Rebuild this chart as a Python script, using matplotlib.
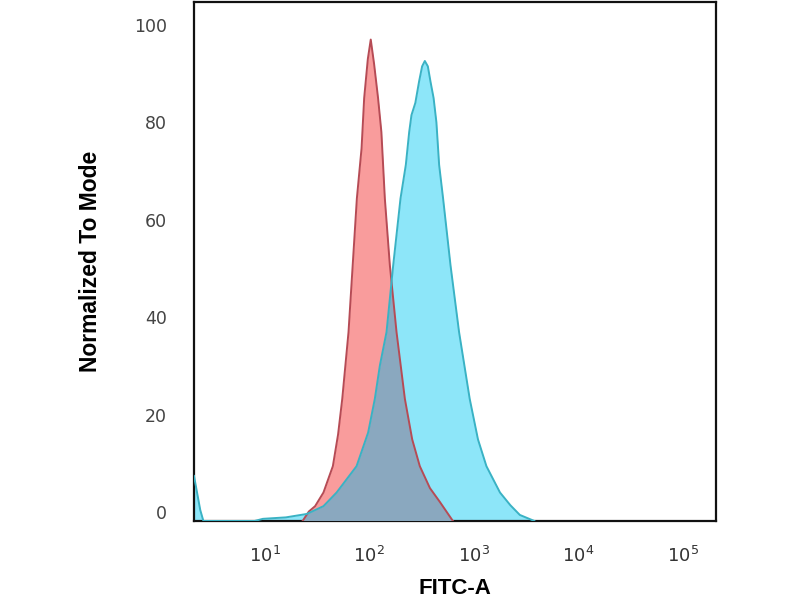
import numpy as np
import matplotlib.pyplot as plt

# histogram outlines: log10(FITC-A) and % of mode
# (-1.7 = down on the axis line)
base = -1.74
iso_log = [1.36, 1.42, 1.48, 1.56, 1.65, 1.70, 1.74, 1.80, 1.84, 1.88, 1.925,
           1.95, 1.985, 2.013, 2.045, 2.083, 2.115, 2.148, 2.196, 2.26, 2.34,
           2.41, 2.483, 2.58, 2.674, 2.80]
iso_val = [base, 0.2, 1.3, 4.1, 9.5, 16, 23.3, 37, 50.7, 64.4, 74.7,
           85, 93, 97, 92, 85, 78, 64.4, 50.7, 37, 23.3,
           15, 9.5, 5, 2.2, base]

stain_log = [0.32, 0.35, 0.38, 0.41, 0.90, 0.98, 1.20, 1.40, 1.56, 1.686,
             1.877, 1.988, 2.052, 2.10, 2.164, 2.228, 2.298, 2.349, 2.381,
             2.403, 2.44, 2.476, 2.505, 2.531, 2.56, 2.585, 2.615, 2.642,
             2.668, 2.706, 2.777, 2.859, 2.961, 3.04, 3.121, 3.251, 3.35,
             3.441, 3.58]
stain_val = [7.5, 4, 0.5, base, base, -1.3, -1.0, -0.3, 1.3, 4.1,
             9.5, 16.4, 23.3, 30.1, 37, 50.7, 64.4, 71.3, 78,
             81.5, 84, 88.4, 91.5, 92.6, 91.5, 88.4, 85, 80,
             71.3, 64.4, 50.7, 37, 23.3, 15, 9.5, 4.1, 1.5,
             -0.5, base]

xticks = [10, 100, 1000, 10000, 100000]
xticklabels = [r'$10^1$', r'$10^2$', r'$10^3$', r'$10^4$', r'$10^5$']
yticks = [0, 20, 40, 60, 80, 100]

iso_x = 10 ** np.array(iso_log)
stain_x = 10 ** np.array(stain_log)

fig = plt.figure(figsize=(8, 6), dpi=100)
ax = fig.add_axes([0.2425, 0.1317, 0.6525, 0.865])

red = ax.fill_between(iso_x, iso_val, base, color='#f99c9c', lw=0, zorder=1)
ax.fill_between(stain_x, stain_val, base, color='#8de6f9', lw=0, zorder=2)
overlap = ax.fill_between(stain_x, stain_val, base, color='#8aa8bf', lw=0, zorder=3)
overlap.set_clip_path(red.get_paths()[0], red.get_transform())

ax.plot(iso_x, iso_val, color='#b64b55', lw=1.4, zorder=4)
ax.plot(stain_x, stain_val, color='#3ab2c4', lw=1.4, zorder=5)

ax.set_xscale('log')
ax.set_xlim(10 ** 0.32, 10 ** 5.32)
ax.set_ylim(base, 104.7)
ax.set_xticks(xticks)
ax.set_xticklabels(xticklabels)
ax.xaxis.set_minor_locator(plt.NullLocator())
ax.set_yticks(yticks)
ax.tick_params(axis='x', length=0, pad=18, labelsize=13, labelcolor='#333333')
ax.tick_params(axis='y', length=0, pad=19.5, labelsize=12.5, labelcolor='#444444')

for s in ax.spines.values():
    s.set_linewidth(1.6)
    s.set_color('#111111')

ax.set_xlabel('FITC-A', fontsize=16, fontweight='bold',
              family=['Liberation Sans', 'DejaVu Sans'])
ax.xaxis.set_label_coords(0.5, -0.11)
ax.set_ylabel('Normalized To Mode', fontsize=16.5, fontweight='bold',
              family=['Liberation Sans', 'DejaVu Sans'])
ax.yaxis.set_label_coords(-0.176, 0.5)

fig.savefig('out.png', dpi=100)
